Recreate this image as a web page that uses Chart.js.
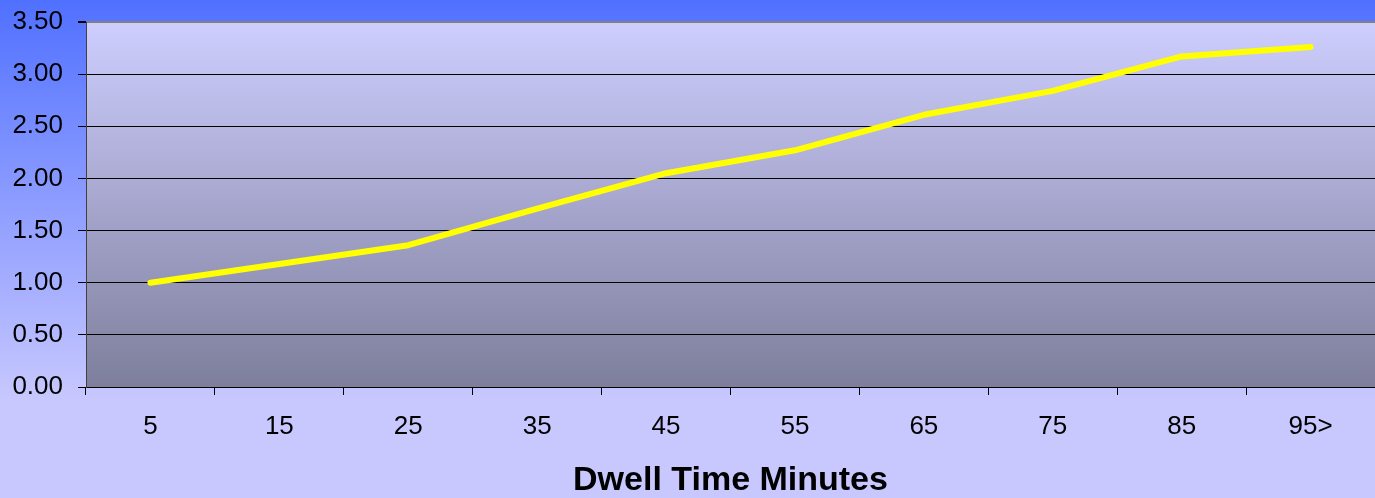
<html>
<head>
    <meta charset="utf-8">
    <script src="https://cdn.jsdelivr.net/npm/chart.js"></script>
    <title>Dwell Time Minutes</title>
    <style>
        body { margin: 0; background: #c8c8ff; }
        canvas { display: block; }
    </style>
</head>
<body>
    <canvas id="myChart" width="1375" height="498"></canvas>

    <script>
        // ** DATA
        const categories = ["5", "15", "25", "35", "45", "55", "65", "75", "85", "95>"];
        const values = [1.00, 1.18, 1.36, 1.71, 2.05, 2.27, 2.61, 2.84, 3.17, 3.26];
        const yTicks = [0, 0.5, 1, 1.5, 2, 2.5, 3, 3.5];
        const xTitle = "Dwell Time Minutes";

        Chart.defaults.font.family = "Arial, 'Liberation Sans', sans-serif";
        Chart.defaults.color = "#000";

        // backgrounds: outer blue fade + plot area fade
        const backgrounds = {
            id: "backgrounds",
            beforeDraw(chart) {
                const { ctx, chartArea: a, width, height } = chart;
                ctx.save();
                let g = ctx.createLinearGradient(0, 0, 0, 400);
                g.addColorStop(0, "#5070ff");
                g.addColorStop(1, "#c8c8ff");
                ctx.fillStyle = g;
                ctx.fillRect(0, 0, width, height);

                g = ctx.createLinearGradient(0, a.top, 0, a.bottom);
                g.addColorStop(0, "#ceceff");
                g.addColorStop(1, "#7e7e9c");
                ctx.fillStyle = g;
                ctx.fillRect(a.left, a.top, a.right - a.left, a.bottom - a.top);
                ctx.restore();
            }
        };

        const config = {
            type: "line",
            data: {
                labels: categories,
                datasets: [{
                    data: values,
                    borderColor: "#ffff00",
                    backgroundColor: "#ffff00",
                    borderWidth: 6,
                    borderCapStyle: "round",
                    borderJoinStyle: "round",
                    pointRadius: 0,
                    tension: 0,
                }],
            },
            options: {
                responsive: false,
                animation: false,
                devicePixelRatio: 1,
                layout: { padding: { top: 22, right: 0, left: 0, bottom: 0 } },
                plugins: {
                    legend: { display: false },
                    tooltip: { enabled: false },
                },
                scales: {
                    x: {
                        offset: true,
                        afterFit: (s) => { s.height = 111; s.paddingLeft = 0; s.paddingRight = 0; },
                        grid: {
                            offset: true,
                            drawOnChartArea: false,
                            drawTicks: true,
                            tickLength: 8,
                            tickColor: "#000",
                        },
                        border: { color: "#000", width: 1 },
                        ticks: {
                            padding: 16,
                            maxRotation: 0,
                            font: { size: 26 },
                        },
                        title: {
                            display: true,
                            text: xTitle,
                            font: { size: 34, weight: "bold", lineHeight: 1 },
                            padding: { top: 0, bottom: 0 },
                        },
                    },
                    y: {
                        min: 0,
                        max: 3.5,
                        afterFit: (s) => { s.width = 86; s.paddingTop = 0; s.paddingBottom = 0; },
                        afterBuildTicks: (s) => { s.ticks = yTicks.map(v => ({ value: v })); },
                        grid: {
                            color: (c) => (c.tick && c.tick.value === 3.5 ? "#808080" : "#000"),
                            lineWidth: (c) => (c.tick && c.tick.value === 3.5 ? 2 : 1),
                            drawTicks: true,
                            tickLength: 8,
                            tickColor: "#000",
                        },
                        border: { color: "#404040", width: 1 },
                        ticks: {
                            padding: 15,
                            font: { size: 26 },
                            callback: (v) => Number(v).toFixed(2),
                        },
                    },
                },
            },
            plugins: [backgrounds],
        };

        const ctx = document.getElementById("myChart").getContext("2d");
        myChart = new Chart(ctx, config);
    </script>
</body>
</html>
